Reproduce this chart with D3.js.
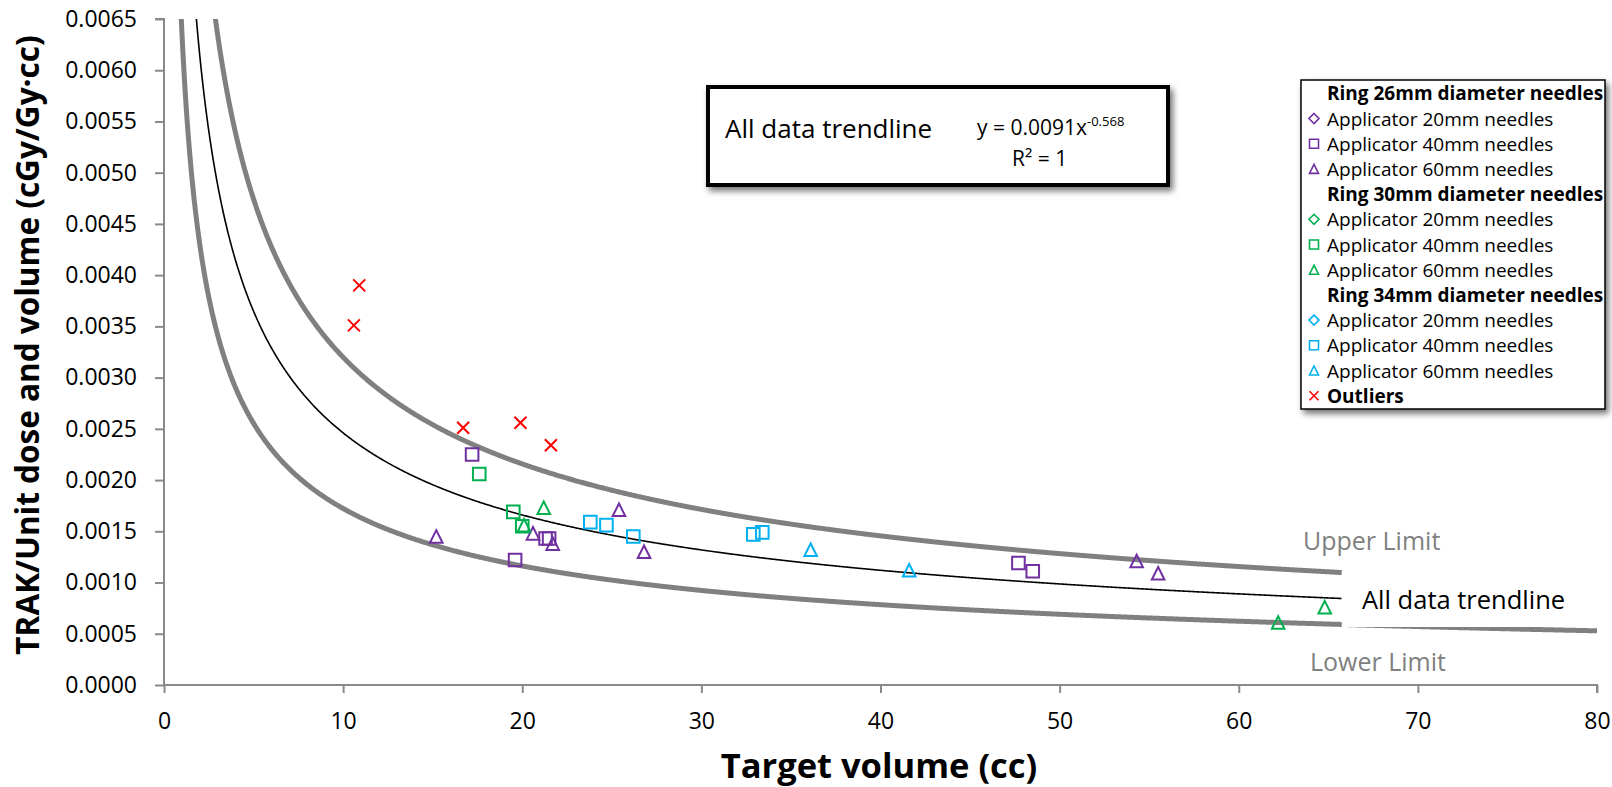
<!DOCTYPE html>
<html>
<head>
<meta charset="utf-8">
<script src="https://cdn.jsdelivr.net/npm/d3@7"></script>
<style>
  body { margin: 0; background: #fff; }
  text { font-family: "Open Sans", sans-serif; }
</style>
</head>
<body>
<script>
// Chart size
const width = 1612, height = 787;

// Data: [target volume (cc), TRAK per unit dose and volume]
const ring26App20 = [];
const ring26App40 = [[17.2, 0.00225], [19.6, 0.00122], [21.3, 0.00143], [21.5, 0.00143], [47.7, 0.00119], [48.5, 0.00111]];
const ring26App60 = [[15.2, 0.00145], [20.6, 0.00148], [21.7, 0.00138], [25.4, 0.00171], [26.8, 0.00130], [54.3, 0.00121], [55.5, 0.00109]];
const ring30App20 = [];
const ring30App40 = [[17.6, 0.00206], [19.5, 0.00169], [20.0, 0.00155]];
const ring30App60 = [[21.2, 0.00173], [20.1, 0.00156], [62.2, 0.00061], [64.8, 0.00076]];
const ring34App20 = [];
const ring34App40 = [[23.8, 0.00159], [24.7, 0.00156], [26.2, 0.00145], [32.9, 0.00147], [33.4, 0.00149]];
const ring34App60 = [[36.1, 0.00132], [41.6, 0.00112]];
const outliers = [[10.9, 0.00390], [10.6, 0.00351], [16.7, 0.00251], [19.9, 0.00256], [21.6, 0.00234]];

// Fitted trendline y = a * x^b, and the limit bands as factors of it
const trendCoef = 0.0091, trendExp = -0.568;
const upperFactor = 1.3, lowerFactor = 0.7;
const trendEnd = 65.75;   // trendline and upper limit stop here
const lowerEnd = 80;

// Ticks
const xTicks = [0, 10, 20, 30, 40, 50, 60, 70, 80];
const yTicks = d3.range(0, 0.00651, 0.0005);

const purple = "#7030A0", green = "#00B050", blue = "#00B0F0", red = "#FF0000";

const series = [
  { data: ring26App40, shape: "square", color: purple },
  { data: ring26App60, shape: "triangle", color: purple },
  { data: ring26App20, shape: "diamond", color: purple },
  { data: ring30App40, shape: "square", color: green },
  { data: ring30App60, shape: "triangle", color: green },
  { data: ring30App20, shape: "diamond", color: green },
  { data: ring34App40, shape: "square", color: blue },
  { data: ring34App60, shape: "triangle", color: blue },
  { data: ring34App20, shape: "diamond", color: blue },
  { data: outliers, shape: "cross", color: red }
];

const legendRows = [
  { label: "Ring 26mm diameter needles", bold: true },
  { label: "Applicator 20mm needles", shape: "diamond", color: purple },
  { label: "Applicator 40mm needles", shape: "square", color: purple },
  { label: "Applicator 60mm needles", shape: "triangle", color: purple },
  { label: "Ring 30mm diameter needles", bold: true },
  { label: "Applicator 20mm needles", shape: "diamond", color: green },
  { label: "Applicator 40mm needles", shape: "square", color: green },
  { label: "Applicator 60mm needles", shape: "triangle", color: green },
  { label: "Ring 34mm diameter needles", bold: true },
  { label: "Applicator 20mm needles", shape: "diamond", color: blue },
  { label: "Applicator 40mm needles", shape: "square", color: blue },
  { label: "Applicator 60mm needles", shape: "triangle", color: blue },
  { label: "Outliers", bold: true, shape: "cross", color: red }
];

// Plot area
const plotLeft = 164, plotRight = 1597, plotTop = 19, plotBottom = 685;

const x = d3.scaleLinear().domain([0, 80]).range([plotLeft, plotRight]);
const y = d3.scaleLinear().domain([0, 0.0065]).range([plotBottom, plotTop]);

const svg = d3.select("body")
    .append("svg")
    .attr("width", width)
    .attr("height", height);

svg.append("rect").attr("width", width).attr("height", height).attr("fill", "#fff");

const defs = svg.append("defs");
defs.append("clipPath").attr("id", "plot")
    .append("rect")
    .attr("x", plotLeft).attr("y", plotTop)
    .attr("width", plotRight - plotLeft).attr("height", plotBottom - plotTop);
defs.append("filter").attr("id", "shadow")
    .attr("x", "-10%").attr("y", "-20%").attr("width", "130%").attr("height", "150%")
    .append("feDropShadow")
    .attr("dx", 3).attr("dy", 4).attr("stdDeviation", 3)
    .attr("flood-color", "#000").attr("flood-opacity", 0.55);

// Marker paths, centred on 0,0
function shapePath(shape, r) {
  if (shape === "square") return `M${-r},${-r}H${r}V${r}H${-r}Z`;
  if (shape === "triangle") return `M0,${-r}L${r},${r}L${-r},${r}Z`;
  if (shape === "diamond") return `M0,${-r}L${r},0L0,${r}L${-r},0Z`;
  return `M${-r},${-r}L${r},${r}M${-r},${r}L${r},${-r}`;
}

// Axes
const axisColor = "#8a8a8a";

const yAxis = svg.append("g")
    .attr("transform", `translate(${plotLeft},0)`)
    .call(d3.axisLeft(y).tickValues(yTicks).tickFormat(d3.format(".4f")).tickSize(9).tickPadding(18));

const xAxis = svg.append("g")
    .attr("transform", `translate(0,${plotBottom})`)
    .call(d3.axisBottom(x).tickValues(xTicks).tickSize(8).tickPadding(20));

[xAxis, yAxis].forEach(g => {
  g.select(".domain").attr("stroke", axisColor).attr("stroke-width", 2);
  g.selectAll(".tick line").attr("stroke", axisColor).attr("stroke-width", 2);
  g.selectAll(".tick text")
      .attr("font-family", "Open Sans")
      .attr("font-size", 23)
      .attr("fill", "#000");
});
// domain path from d3 includes outer ticks; redraw plain
yAxis.select(".domain").attr("d", `M-9,${plotTop}H0V${plotBottom}`);
xAxis.select(".domain").attr("d", `M${plotLeft},0H${plotRight}V8`);

// Curves
const curve = d3.line().x(d => x(d[0])).y(d => y(d[1]));
const plotG = svg.append("g").attr("clip-path", "url(#plot)");

const trendPts = f => d3.range(0.9, trendEnd + 0.001, 0.05).map(v => [v, f * trendCoef * Math.pow(v, trendExp)]);
const lowerPts = d3.range(0.9, lowerEnd + 0.001, 0.05).map(v => [v, lowerFactor * trendCoef * Math.pow(v, trendExp)]);

plotG.append("path").attr("d", curve(trendPts(upperFactor)))
    .attr("fill", "none").attr("stroke", "#808080").attr("stroke-width", 5);
plotG.append("path").attr("d", curve(lowerPts))
    .attr("fill", "none").attr("stroke", "#808080").attr("stroke-width", 5);
plotG.append("path").attr("d", curve(trendPts(1)))
    .attr("fill", "none").attr("stroke", "#000").attr("stroke-width", 1.6);

// White box behind the right-hand trendline label
svg.append("rect")
    .attr("x", x(trendEnd)).attr("y", 586)
    .attr("width", 1600 - x(trendEnd)).attr("height", 41)
    .attr("fill", "#fff");

// Points
series.forEach(s => {
  svg.append("g").selectAll("path")
      .data(s.data)
      .enter()
      .append("path")
      .attr("transform", d => `translate(${x(d[0])},${y(d[1])})`)
      .attr("d", shapePath(s.shape, s.shape === "cross" ? 6 : 6.3))
      .attr("fill", "none")
      .attr("stroke", s.color)
      .attr("stroke-width", 2);
});

// Curve labels
svg.append("text").attr("x", 1303).attr("y", 550)
    .attr("font-size", 25).attr("fill", "#808080").text("Upper Limit");
svg.append("text").attr("x", 1310).attr("y", 671)
    .attr("font-size", 25).attr("fill", "#808080").text("Lower Limit");
svg.append("text").attr("x", 1362).attr("y", 609)
    .attr("font-size", 25.5).attr("fill", "#000").text("All data trendline");

// Axis titles
svg.append("text")
    .attr("x", 879).attr("y", 778)
    .attr("text-anchor", "middle")
    .attr("font-size", 34.5).attr("font-weight", "bold")
    .text("Target volume (cc)");
svg.append("text")
    .attr("transform", "translate(39,345) rotate(-90)")
    .attr("text-anchor", "middle")
    .attr("font-size", 31.5).attr("font-weight", "bold")
    .text("TRAK/Unit dose and volume (cGy/Gy·cc)");

// Equation box
svg.append("rect")
    .attr("x", 708).attr("y", 87).attr("width", 460).attr("height", 98)
    .attr("fill", "#fff").attr("stroke", "#000").attr("stroke-width", 4)
    .attr("filter", "url(#shadow)");
svg.append("text").attr("x", 725).attr("y", 138)
    .attr("font-size", 26).text("All data trendline");
const eq = svg.append("text").attr("x", 977).attr("y", 135).attr("font-size", 21);
eq.append("tspan").text("y = 0.0091x");
eq.append("tspan").attr("dy", -9).attr("font-size", 13).text("-0.568");
svg.append("text").attr("x", 1012).attr("y", 166).attr("font-size", 21).text("R² = 1");

// Legend
const legendTop = 93.3, rowH = 25.2;
svg.append("rect")
    .attr("x", 1301).attr("y", 80).attr("width", 304).attr("height", 329)
    .attr("fill", "#fff").attr("stroke", "#000").attr("stroke-width", 1.5)
    .attr("filter", "url(#shadow)");

const rows = svg.append("g").selectAll("g")
    .data(legendRows)
    .enter()
    .append("g")
    .attr("transform", (d, i) => `translate(1314,${legendTop + i * rowH})`);

rows.filter(d => d.shape)
    .append("path")
    .attr("d", d => shapePath(d.shape, d.shape === "diamond" ? 5 : 4.5))
    .attr("fill", "none")
    .attr("stroke", d => d.color)
    .attr("stroke-width", 1.6);

rows.append("text")
    .attr("x", 13)
    .attr("y", 7)
    .attr("font-size", 19)
    .attr("font-weight", d => d.bold ? "bold" : "normal")
    .text(d => d.label);
</script>
</body>
</html>
